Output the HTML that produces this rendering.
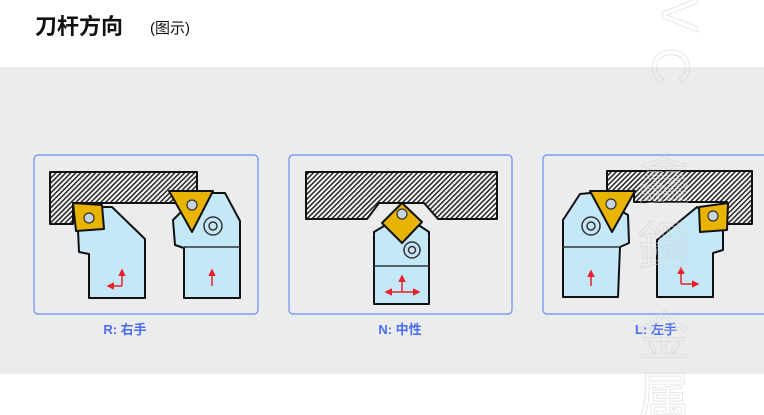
<!DOCTYPE html>
<html><head><meta charset="utf-8"><style>
html,body{margin:0;padding:0;background:#fff;}
body{width:764px;height:415px;overflow:hidden;position:relative;font-family:"Liberation Sans","Noto Sans CJK SC",sans-serif;}
</style></head><body>
<svg width="764" height="415" viewBox="0 0 764 415" xmlns="http://www.w3.org/2000/svg" style="position:absolute;left:0;top:0">
<defs>
<pattern id="h" patternUnits="userSpaceOnUse" width="3.5" height="3.5" patternTransform="rotate(-45)">
<rect width="3.5" height="3.5" fill="#fff"/><rect width="3.5" height="1.6" fill="#2a2a2a"/>
</pattern>
<marker id="a" viewBox="0 0 10 10" refX="8" refY="5" markerWidth="5" markerHeight="5" orient="auto"><path d="M0,0L10,5L0,10z" fill="#e8202a"/></marker>
</defs>
<rect x="0" y="67" width="764" height="307" fill="#ebecee"/>
<text x="35" y="34" font-size="22" font-weight="bold" fill="#111" font-family="Liberation Sans,Noto Sans CJK SC,sans-serif">刀杆方向</text>
<text x="150" y="33" font-size="15" fill="#111" font-family="Liberation Sans,Noto Sans CJK SC,sans-serif">(图示)</text>

<g fill="none" stroke="#6a8cf5" stroke-width="1.2">
<rect x="34" y="155" width="224" height="159" rx="4"/>
<rect x="289" y="155" width="223" height="159" rx="4"/>
<rect x="543" y="155" width="230" height="159" rx="4"/>
</g>
<g font-size="13" font-weight="bold" fill="#4a6cf0" text-anchor="middle" font-family="Liberation Sans,Noto Sans CJK SC,sans-serif">
<text x="125" y="334">R: 右手</text>
<text x="400" y="334">N: 中性</text>
<text x="656" y="334">L: 左手</text>
</g>

<g stroke="#111" stroke-width="2" stroke-linejoin="round">
<path d="M50,172H197V203H73V224H50Z" fill="url(#h)"/>
<path d="M78,230L79,252L89,254L89,298L145,298L145,239L112,207L102,207Z" fill="#c5e8f8"/>
<path d="M73,203L102,205L104,229L76,231Z" fill="#e8b400"/>
<path d="M173,220L175,245L184,248L184,298L240,298L240,221L225,193L200,193L178,215Z" fill="#c5e8f8"/>
<path d="M169,191L213,191L192,232Z" fill="#e8b400"/>
<path d="M306,172H497V219H438L424,203H379L367,219H306Z" fill="url(#h)"/>
<path d="M374,232L384,226L420,226L429,232L429,304L374,304Z" fill="#c5e8f8"/>
<path d="M402,203L422,222L402,243L382,223Z" fill="#e8b400"/>
<path d="M607,171H752V224H727V202H634V192H607Z" fill="url(#h)"/>
<path d="M563,220L580,194L590,193L628,215L629,243L620,247L618,297L563,297Z" fill="#c5e8f8"/>
<path d="M590,191L635,191L612,232Z" fill="#e8b400"/>
<path d="M657,240L697,207L723,230L723,250L713,253L713,297L657,297Z" fill="#c5e8f8"/>
<path d="M699,207L728,203L727,230L700,232Z" fill="#e8b400"/>
</g>
<g stroke="#333" stroke-width="1.2" fill="#c8d4e0">
<circle cx="89" cy="218" r="5"/><circle cx="192" cy="205" r="5"/>
<circle cx="402" cy="214" r="5"/><circle cx="611" cy="204" r="5"/><circle cx="713" cy="216" r="5"/>
</g>
<g stroke="#333" stroke-width="1.5" fill="none">
<circle cx="213" cy="226" r="9"/><circle cx="213" cy="226" r="4"/>
<circle cx="412" cy="250" r="8"/><circle cx="412" cy="250" r="3.5"/>
<circle cx="591" cy="226" r="9"/><circle cx="591" cy="226" r="4"/>
<path d="M184,247H240M374,266H429M563,247H620"/>
</g>
<g stroke="#e8202a" stroke-width="1.5" fill="none">
<path d="M122,286V270" marker-end="url(#a)"/><path d="M122,286H108" marker-end="url(#a)"/>
<path d="M212,286V270" marker-end="url(#a)"/>
<path d="M402,292V276" marker-end="url(#a)"/><path d="M402,292H386" marker-end="url(#a)"/><path d="M402,292H419" marker-end="url(#a)"/>
<path d="M591,286V271" marker-end="url(#a)"/>
<path d="M681,284V268" marker-end="url(#a)"/><path d="M681,284H698" marker-end="url(#a)"/>
</g>
<g fill="none" stroke="#d4d4d4" stroke-width="0.8" font-size="52" font-family="Liberation Sans,Noto Sans CJK SC,sans-serif" text-anchor="middle" opacity="0.7">
<text x="665" y="18" transform="rotate(90 665 15)">V</text>
<text x="665" y="78" transform="rotate(90 665 66)">C</text>
<text x="664" y="200">鑫</text>
<text x="664" y="265">鋼</text>
<text x="664" y="355">金</text>
<text x="664" y="415">属</text>
</g>
</svg>
</body></html>
